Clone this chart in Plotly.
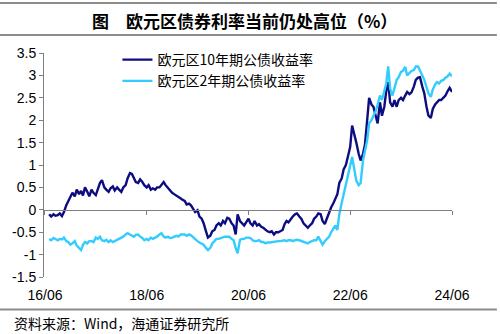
import pandas as pd
import plotly.graph_objects as go

# ---------------- data (semi-monthly readings, 2016-07-01 .. 2024-06-01) ----------------
dates = [d.strftime("%Y-%m-%d")
         for m in pd.date_range("2016-07-01", "2024-05-01", freq="MS")
         for d in (m, m + pd.Timedelta(days=14))] + ["2024-06-01"]

series_names = ["欧元区10年期公债收益率", "欧元区2年期公债收益率"]

y10 = [
    # 2016 Jul-Dec
    -0.10, -0.15, -0.10, -0.13, -0.12, -0.08, -0.14, -0.05, 0.10, 0.20, 0.30, 0.38,
    # 2017
    0.30, 0.45, 0.35, 0.42, 0.32, 0.50, 0.40, 0.30, 0.45, 0.38, 0.33, 0.48,
    0.60, 0.66, 0.50, 0.45, 0.40, 0.48, 0.52, 0.43, 0.50, 0.45, 0.40, 0.50,
    # 2018
    0.55, 0.70, 0.82, 0.80, 0.72, 0.62, 0.60, 0.68, 0.62, 0.55, 0.50, 0.55,
    0.45, 0.48, 0.45, 0.50, 0.50, 0.55, 0.62, 0.55, 0.48, 0.42, 0.38, 0.35,
    # 2019
    0.32, 0.28, 0.25, 0.22, 0.20, 0.12, 0.14, 0.10, 0.02, -0.05, -0.01, -0.15,
    -0.20, -0.30, -0.48, -0.62, -0.58, -0.48, -0.45, -0.35, -0.30, -0.35, -0.25, -0.30,
    # 2020
    -0.18, -0.20, -0.30, -0.35, -0.55, -0.10, -0.25, -0.30, -0.35, -0.28, -0.20, -0.30,
    -0.35, -0.25, -0.35, -0.32, -0.38, -0.40, -0.45, -0.48, -0.50, -0.48, -0.55, -0.50,
    # 2021
    -0.50, -0.48, -0.45, -0.32, -0.25, -0.28, -0.20, -0.15, -0.10, -0.08, -0.15, -0.20,
    -0.30, -0.35, -0.40, -0.35, -0.30, -0.20, -0.15, -0.08, -0.10, -0.25, -0.32, -0.20,
    # 2022
    -0.05, 0.05, 0.15, 0.25, 0.35, 0.60, 0.70, 0.90, 1.00, 1.18, 1.40, 1.88,
    1.70, 1.50, 1.25, 1.10, 1.25, 1.45, 2.00, 2.50, 2.35, 2.30, 2.10, 1.93,
    # 2023
    2.40, 2.10, 2.30, 2.65, 2.85, 2.40, 2.30, 2.45, 2.30, 2.45, 2.50, 2.45,
    2.55, 2.63, 2.58, 2.62, 2.75, 2.90, 2.95, 2.96, 2.75, 2.60, 2.30, 2.10,
    # 2024 Jan-Jun
    2.05, 2.25, 2.35, 2.40, 2.45, 2.45, 2.50, 2.55, 2.65, 2.72, 2.63,
]

y2 = [
    # 2016 Jul-Dec
    -0.65, -0.68, -0.63, -0.66, -0.68, -0.65, -0.66, -0.62, -0.70, -0.72, -0.78, -0.75,
    # 2017
    -0.70, -0.80, -0.85, -0.90, -0.78, -0.72, -0.75, -0.70, -0.70, -0.72, -0.62, -0.65,
    -0.60, -0.68, -0.70, -0.67, -0.72, -0.68, -0.72, -0.70, -0.68, -0.65, -0.62, -0.60,
    # 2018
    -0.55, -0.52, -0.55, -0.58, -0.60, -0.56, -0.55, -0.60, -0.63, -0.68, -0.65, -0.68,
    -0.62, -0.65, -0.62, -0.60, -0.55, -0.52, -0.60, -0.62, -0.60, -0.63, -0.62, -0.60,
    # 2019
    -0.58, -0.60, -0.55, -0.55, -0.55, -0.58, -0.55, -0.57, -0.62, -0.65, -0.70, -0.73,
    -0.75, -0.78, -0.85, -0.90, -0.85, -0.75, -0.70, -0.65, -0.65, -0.63, -0.62, -0.60,
    # 2020
    -0.60, -0.60, -0.65, -0.68, -0.85, -0.97, -0.67, -0.65, -0.65, -0.62, -0.62, -0.63,
    -0.68, -0.70, -0.70, -0.68, -0.72, -0.72, -0.75, -0.73, -0.73, -0.72, -0.72, -0.70,
    # 2021
    -0.70, -0.70, -0.68, -0.68, -0.70, -0.68, -0.68, -0.70, -0.68, -0.67, -0.68, -0.70,
    -0.72, -0.73, -0.75, -0.72, -0.70, -0.68, -0.68, -0.60, -0.70, -0.78, -0.70, -0.65,
    # 2022
    -0.60, -0.50, -0.40, -0.35, -0.45, -0.10, 0.15, 0.35, 0.50, 0.75, 0.95, 1.18,
    0.90, 0.65, 0.55, 0.60, 1.10, 1.35, 1.55, 1.93, 2.00, 2.10, 2.20, 2.35,
    # 2023
    2.55, 2.45, 2.65, 2.82, 3.20, 2.70, 2.55, 2.74, 2.90, 2.96, 3.08, 3.10,
    3.19, 3.00, 3.05, 3.10, 3.12, 3.20, 3.20, 3.12, 3.00, 2.90, 2.75, 2.60,
    # 2024 Jan-Jun
    2.52, 2.68, 2.80, 2.85, 2.82, 2.88, 2.90, 2.95, 2.98, 3.04, 2.98,
]

y_tickvals = [3.5, 3, 2.5, 2, 1.5, 1, 0.5, 0, -0.5, -1, -1.5]
y_ticktext = ["3.5", "3", "2.5", "2", "1.5", "1", "0.5", "0", "-0.5", "-1", "-1.5"]
x_tickvals = ["2016-06-01", "2018-06-01", "2020-06-01", "2022-06-01", "2024-06-01"]
x_ticktext = ["16/06", "18/06", "20/06", "22/06", "24/06"]

title_text = "图\u3000欧元区债券利率当前仍处高位（%）"
source_text = "资料来源：Wind，海通证券研究所"

colors = ["#0D0D80", "#33CCFF"]
x_range = ["2016-05-25", "2024-06-01"]
y_range = [-1.5, 3.5]

FONT = "Liberation Sans, Arial, Noto Sans CJK SC, sans-serif"
CJK = "Noto Sans CJK SC, sans-serif"

fig = go.Figure()
for name, vals, c in zip(series_names, [y10, y2], colors):
    fig.add_trace(go.Scatter(x=dates, y=vals, mode="lines", name=name,
                             line=dict(color=c, width=2.4)))
# helper trace so the zero-line axis (x2) gets drawn
fig.add_trace(go.Scatter(x=[dates[0]], y=[0], xaxis="x2", mode="markers",
                         marker=dict(opacity=0), showlegend=False, hoverinfo="skip"))

fig.update_layout(
    width=500, height=334,
    margin=dict(l=44, r=48, t=53, b=57),
    paper_bgcolor="white", plot_bgcolor="white",
    font=dict(family=FONT, size=14, color="black"),
    showlegend=True,
    legend=dict(x=0.18, y=1.04, xanchor="left", yanchor="top",
                font=dict(family=CJK, size=14, color="black"),
                bgcolor="rgba(0,0,0,0)", tracegroupgap=0),
    xaxis=dict(type="date", range=x_range, tickvals=x_tickvals, ticktext=x_ticktext,
               showline=False, showgrid=False, zeroline=False, ticks="",
               ticklabelstandoff=8, tickfont=dict(size=14)),
    xaxis2=dict(type="date", overlaying="x", matches="x", anchor="free", position=0.3,
                showline=True, linecolor="#7f7f7f", linewidth=1, ticks="outside",
                ticklen=4, tickcolor="#7f7f7f", tickvals=x_tickvals,
                showticklabels=False, showgrid=False, zeroline=False),
    yaxis=dict(range=y_range, tickvals=y_tickvals, ticktext=y_ticktext,
               showline=True, linecolor="#7f7f7f", linewidth=1, ticks="outside",
               ticklen=4, tickcolor="#7f7f7f", showgrid=False, zeroline=False,
               tickfont=dict(size=14)),
)

# header / footer rules
for yy in (1.2232, 1.080, -0.145):
    fig.add_shape(type="line", xref="paper", yref="paper", x0=-0.108, x1=1.110,
                  y0=yy, y1=yy, line=dict(color="#8c8c8c", width=2))

fig.add_annotation(text="<b>" + title_text + "</b>", xref="paper", yref="paper",
                   x=0.4926, y=1.147, xanchor="center", yanchor="middle",
                   showarrow=False, font=dict(family=CJK, size=17, color="black"))
fig.add_annotation(text=source_text, xref="paper", yref="paper",
                   x=-0.078, y=-0.205, xanchor="left", yanchor="middle",
                   showarrow=False, font=dict(family=CJK, size=14, color="black"))

fig.write_html("out.html")
